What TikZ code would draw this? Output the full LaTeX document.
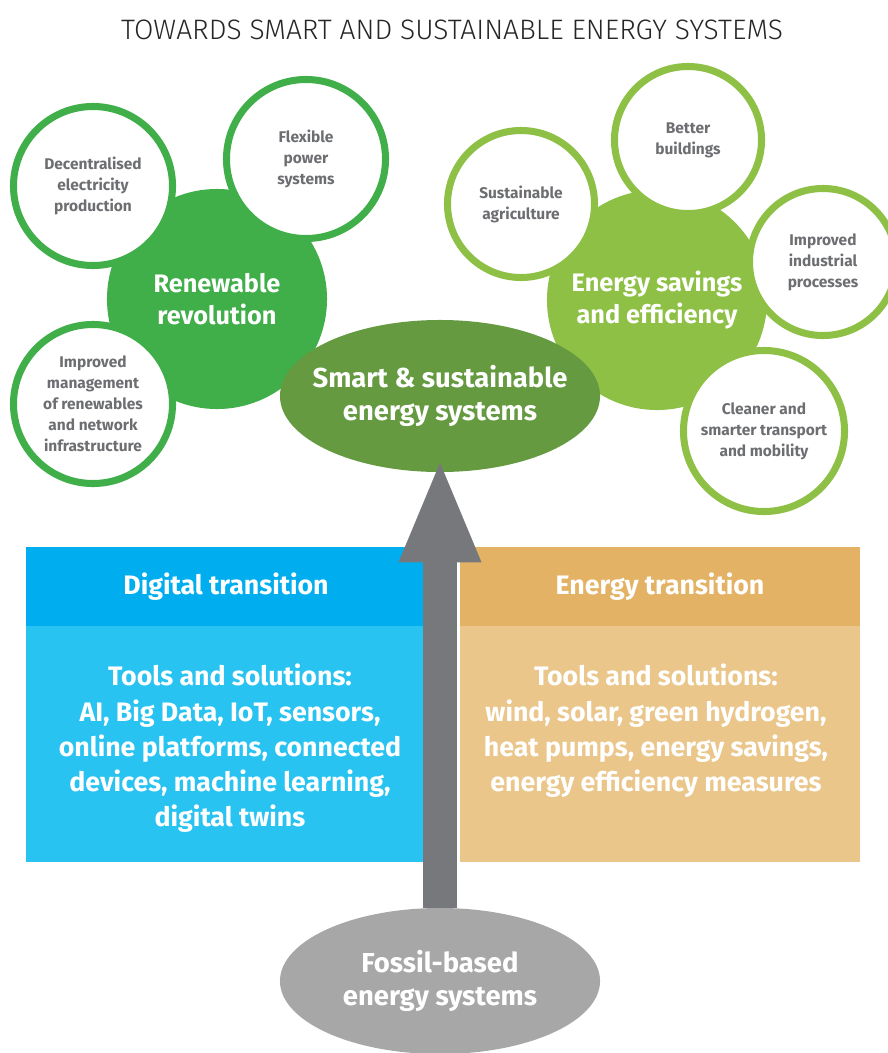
\documentclass[tikz,border=0pt]{standalone}
\usepackage{fontspec}
\setmainfont{Fira Sans}
\newfontfamily\titlefont{Fira Sans Light}
\usepackage{xcolor}
\usetikzlibrary{
  positioning,
  shapes.geometric,
  arrows.meta
}

\definecolor{rengreen}{HTML}{40AE49}
\definecolor{effgreen}{HTML}{8DC045}
\definecolor{smartgreen}{HTML}{659A41}
\definecolor{bluehead}{HTML}{00AEEF}
\definecolor{bluebody}{HTML}{29C3F2}
\definecolor{sandhead}{HTML}{E4B264}
\definecolor{sandbody}{HTML}{EAC68A}
\definecolor{arrowgray}{HTML}{77787B}
\definecolor{fossilgray}{HTML}{A7A7A7}
\definecolor{ringtext}{HTML}{6D6E71}

\begin{document}
\begin{tikzpicture}[
  x=0.025cm, y=-0.025cm,
  font=\bfseries,
  hub/.style={circle, inner sep=0pt, minimum size=5.5cm, text=white, align=center, font=\bfseries\fontsize{18}{23}\selectfont},
  ring/.style={circle, draw=#1, fill=white, line width=5pt, inner sep=0pt, minimum size=3.975cm, text=ringtext, align=center, font=\bfseries\fontsize{11}{15}\selectfont},
  core/.style={ellipse, inner xsep=-20pt, inner ysep=0pt, minimum width=8cm, minimum height=3.8cm, text=white, align=center, font=\bfseries\fontsize{19.5}{24}\selectfont},
  head/.style={rectangle, inner sep=0pt, minimum width=10cm, minimum height=1.95cm, text=white, font=\bfseries\fontsize{19}{24}\selectfont},
  body/.style={rectangle, inner sep=0pt, minimum width=10cm, minimum height=5.925cm},
  tools/.style={text=white, align=center, inner sep=0pt, font=\bfseries\fontsize{19}{25}\selectfont},
  bigarrow/.style={draw=arrowgray, line width=24.2pt, -{Triangle[length=74.7pt, width=52.6pt]}}
]
\useasboundingbox (0,0) rectangle (888,1053);

% Title
\node[font=\titlefont\fontsize{20}{24}\selectfont, text=black!85] (title) at (452,30) {TOWARDS SMART AND SUSTAINABLE ENERGY SYSTEMS};

% Nodes
\node[hub, fill=rengreen] (renew) at (217,299) {Renewable\\revolution};
\node[hub, fill=effgreen] (savings) at (657,300) {Energy savings\\and efficiency};

\node[ring=rengreen] (decentral) at (93,186) {Decentralised\\electricity\\production};
\node[ring=rengreen] (flexible) at (306,159) {Flexible\\power\\systems};
\node[ring=rengreen] (manage) at (93,404) {Improved\\management\\of renewables\\and network\\infrastructure};

\node[ring=effgreen, minimum size=3.675cm] (agri) at (521,204) {Sustainable\\agriculture};
\node[ring=effgreen, minimum size=3.675cm] (buildings) at (688,140) {Better\\buildings};
\node[ring=effgreen, minimum size=3.675cm] (industry) at (823,262) {Improved\\industrial\\processes};
\node[ring=effgreen, minimum size=4.025cm] (transport) at (764,431) {Cleaner and\\smarter transport\\and mobility};

\node[core, fill=smartgreen] (smart) at (440,396) {Smart \& sustainable\\energy systems};

\node[body, fill=bluebody] (digibody) at (226,743.5) {};
\node[head, fill=bluehead] (digihead) at (226,586.5) {Digital transition};
\node[body, fill=sandbody] (enbody) at (660,743.5) {};
\node[head, fill=sandhead] (enhead) at (660,586.5) {Energy transition};

\node[tools, anchor=north] (digitools) at (230,664) {Tools and solutions:\\AI, Big Data, IoT, sensors,\\online platforms, connected\\devices, machine learning,\\digital twins};
\node[tools, anchor=north] (entools) at (656,664) {Tools and solutions:\\wind, solar, green hydrogen,\\heat pumps, energy savings,\\energy efficiency measures};

\node[core, fill=fossilgray, minimum height=3.65cm] (fossil) at (440,981) {Fossil-based\\energy systems};

% Arrows
\draw[bigarrow] (fossil.north) -- ([yshift=0.375cm]smart.south);

\end{tikzpicture}
\end{document}
